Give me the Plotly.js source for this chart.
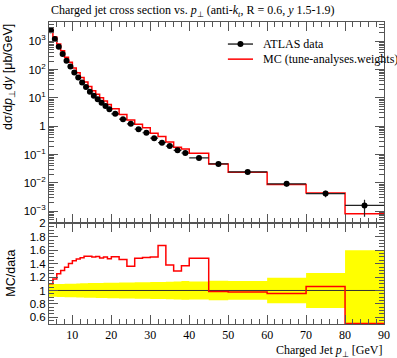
<!DOCTYPE html>
<html><head><meta charset="utf-8">
<script src="https://cdn.plot.ly/plotly-3.0.1.min.js"></script>
<style>html,body{margin:0;padding:0;background:#fff;overflow:hidden}#chart{width:397px;height:358px}</style>
</head><body><div id="chart"></div>
<script>
// ---- data ----
const binEdges = [4,5,6,7,8,9,10,11,12,13,14,15,16,17,18,19,20,22,24,26,28,30,32,34,36,38,40,45,50,60,70,80,90];
const dataValues = [2430,1200,646,358,204,129,79,52.7,35.2,24.3,16.6,12,8.9,6.8,5.2,4.0,
  2.75,1.78,1.22,0.79,0.59,0.38,0.263,0.2,0.141,0.114,0.076,0.047,0.0245,0.0093,0.0042,0.0016];
const dataRelErr = [0.095,0.095,0.097,0.098,0.1,0.1,0.102,0.104,0.106,0.108,0.11,0.11,0.112,0.113,0.114,0.115,
  0.117,0.118,0.12,0.122,0.124,0.126,0.128,0.13,0.135,0.14,0.135,0.145,0.14,0.19,0.26,0.6];
const mcValues = [2673,1404,808,465,275,181,114,77.5,52.4,36.7,25.1,18,13.4,10.1,7.8,5.9,
  4.13,2.6,1.66,1.17,0.88,0.57,0.439,0.276,0.182,0.156,0.1125,0.0463,0.0239,0.00888,0.00445,0.00081];
const yTickVals = [1e-3,1e-2,1e-1,1,10,100,1000];
const yTickText = ['10<sup>−3</sup>','10<sup>−2</sup>','10<sup>−1</sup>','1','10<sup>1</sup>','10<sup>2</sup>','10<sup>3</sup>'];

// ---- derived ----
const n = dataValues.length;
const centers = [], halfW = [];
for (let i = 0; i < n; i++) { centers.push((binEdges[i]+binEdges[i+1])/2); halfW.push((binEdges[i+1]-binEdges[i])/2); }
const dataErr = dataValues.map((v,i)=>v*dataRelErr[i]);
const last = a => a.concat([a[a.length-1]]);
const mcStep = last(mcValues);
const ratio = mcValues.map((v,i)=>v/dataValues[i]);
const ratioStep = last(ratio);
const bandLo = last(dataRelErr.map(e=>1-e));
const bandHi = last(dataRelErr.map(e=>1+e));
const unity = binEdges.map(()=>1);
const minorLog = [];
for (let k = -4; k <= 3; k++) for (let m = 2; m <= 9; m++) minorLog.push(m*Math.pow(10,k));

const RED = '#ff0000';
const traces = [
  {x: binEdges, y: bandLo, xaxis:'x2', yaxis:'y2', mode:'lines', line:{shape:'hv', width:0, color:'#ffff00'}, hoverinfo:'skip', showlegend:false},
  {x: binEdges, y: bandHi, xaxis:'x2', yaxis:'y2', mode:'lines', line:{shape:'hv', width:0, color:'#ffff00'}, fill:'tonexty', fillcolor:'#ffff00', hoverinfo:'skip', showlegend:false},
  {x: binEdges, y: unity, xaxis:'x2', yaxis:'y2', mode:'lines', line:{color:'#333', width:1}, showlegend:false},
  {x: binEdges, y: ratioStep, xaxis:'x2', yaxis:'y2', mode:'lines', line:{shape:'hv', color:RED, width:1.5}, showlegend:false},
  {x: binEdges, y: mcStep, xaxis:'x', yaxis:'y', mode:'lines', line:{shape:'hv', color:RED, width:1.5}, showlegend:false},
  {x: centers, y: dataValues, xaxis:'x', yaxis:'y', mode:'markers', marker:{color:'#000', size:6},
   error_x:{type:'data', array:halfW, width:0, thickness:1.2, color:'#222'},
   error_y:{type:'data', array:dataErr, width:0, thickness:1.2, color:'#222'}, showlegend:false}
];

const axC = '#555';
const serif = 'Liberation Serif, serif';
const sans = 'Liberation Sans, sans-serif';
const rd = 0.333;
const layout = {
  width:397, height:358, margin:{l:49, r:13, t:22, b:34},
  paper_bgcolor:'#fff', plot_bgcolor:'#fff', showlegend:false,
  font:{family:serif, size:12, color:'#000'},
  xaxis:{domain:[0,1], anchor:'y', range:[4,90], showticklabels:false, ticks:'inside', ticklen:9, tickcolor:axC,
    tick0:0, dtick:10, mirror:'ticks', showline:true, linecolor:axC, linewidth:1, showgrid:false, zeroline:false,
    minor:{ticks:'inside', ticklen:5, tick0:0, dtick:2, tickcolor:axC}},
  yaxis:{domain:[rd,1], anchor:'x', type:'log', range:[-3.43,3.68], tickmode:'array', tickvals:yTickVals, ticktext:yTickText,
    ticks:'inside', ticklen:9, tickcolor:axC, mirror:'ticks', showline:true, linecolor:axC, linewidth:1, showgrid:false, zeroline:false,
    tickfont:{family:sans, size:11.5},
    minor:{tickmode:'array', tickvals:minorLog, ticks:'inside', ticklen:5, tickcolor:axC}},
  xaxis2:{domain:[0,1], anchor:'y2', range:[4,90], matches:'x', ticks:'inside', ticklen:9, tickcolor:axC,
    tick0:0, dtick:10, mirror:'ticks', showline:true, linecolor:axC, linewidth:1, showgrid:false, zeroline:false,
    tickfont:{family:serif, size:12},
    minor:{ticks:'inside', ticklen:5, tick0:0, dtick:2, tickcolor:axC}},
  yaxis2:{domain:[0,rd], anchor:'x2', range:[0.5,2], tick0:0, dtick:0.2, ticks:'inside', ticklen:9, tickcolor:axC,
    mirror:'ticks', showline:true, linecolor:axC, linewidth:1, showgrid:false, zeroline:false,
    tickfont:{family:sans, size:11.5},
    minor:{ticks:'inside', ticklen:5, tick0:0, dtick:0.05, tickcolor:axC}},
  annotations:[
    {xref:'paper', yref:'paper', x:0, y:1.035, xanchor:'left', yanchor:'middle', showarrow:false,
     text:'Charged jet cross section vs. <i>p</i><sub>⊥</sub> (anti-<i>k</i><sub><i>t</i></sub>, R = 0.6, <i>y</i> 1.5-1.9)', font:{family:serif, size:12}},
    {xref:'paper', yref:'paper', x:1, y:-0.089, xanchor:'right', yanchor:'middle', showarrow:false,
     text:'Charged Jet <i>p</i><sub>⊥</sub> [GeV]', font:{family:serif, size:12}},
    {xref:'paper', yref:'paper', x:0, xshift:-40, y:1, xanchor:'center', yanchor:'top', textangle:-90, showarrow:false,
     text:'dσ/d<i>p</i><sub>⊥</sub>d<i>y</i> [μb/GeV]', font:{family:sans, size:12.5}},
    {xref:'paper', yref:'paper', x:0, xshift:-38, y:rd/2, xanchor:'center', yanchor:'middle', textangle:-90, showarrow:false,
     text:'MC/data', font:{family:sans, size:12.5}},
    {xref:'paper', yref:'paper', x:0.633, y:0.927, xanchor:'left', yanchor:'middle', showarrow:false,
     text:'ATLAS data', font:{family:serif, size:12}},
    {xref:'paper', yref:'paper', x:0.633, y:0.877, xanchor:'left', yanchor:'middle', showarrow:false,
     text:'MC (tune-analyses.weights)', font:{family:serif, size:12}}
  ],
  shapes:[
    {type:'line', xref:'paper', yref:'paper', x0:0.534, x1:0.609, y0:0.927, y1:0.927, line:{color:'#000', width:1.2}},
    {type:'circle', xref:'paper', yref:'paper', xsizemode:'pixel', ysizemode:'pixel', xanchor:0.5715, yanchor:0.927,
     x0:-3, x1:3, y0:-3, y1:3, fillcolor:'#000', line:{color:'#000', width:0}},
    {type:'line', xref:'paper', yref:'paper', x0:0.534, x1:0.609, y0:0.877, y1:0.877, line:{color:RED, width:1.5}}
  ]
};
Plotly.newPlot('chart', traces, layout, {staticPlot:true, displayModeBar:false});
</script></body></html>
